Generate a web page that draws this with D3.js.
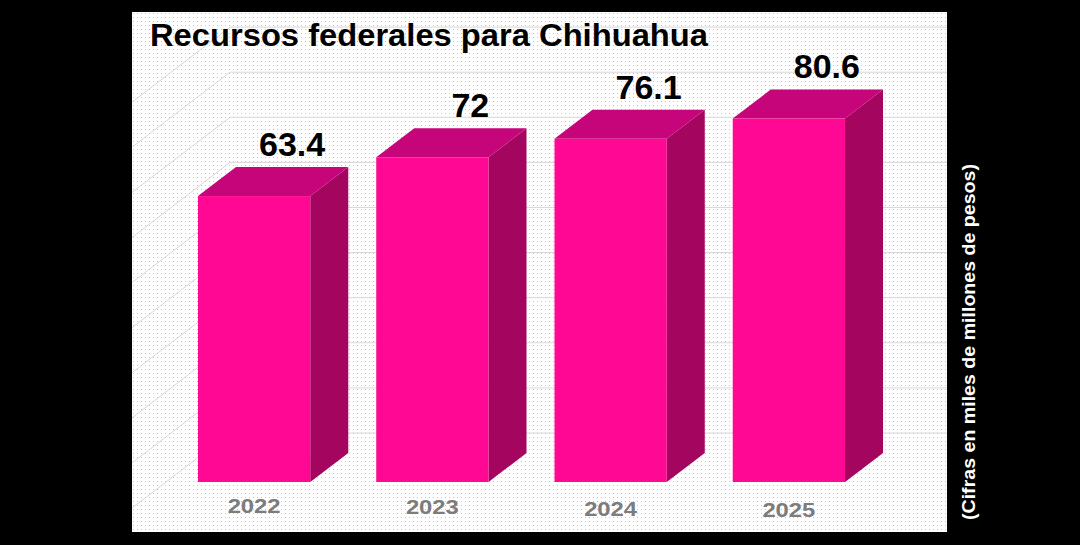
<!DOCTYPE html>
<html>
<head>
<meta charset="utf-8">
<script src="https://cdn.jsdelivr.net/npm/d3@7"></script>
<style>
  body { margin: 0; background: #000; }
  text { font-family: "Liberation Sans", Arial, sans-serif; font-weight: bold; }
</style>
</head>
<body>
<div id="chart"></div>
<script>
const years = ["2022", "2023", "2024", "2025"];
const values = [63.4, 72, 76.1, 80.6];
const gridTicks = [0, 10, 20, 30, 40, 50, 60, 70, 80, 90];
const title = "Recursos federales para Chihuahua";
const unitNote = "(Cifras en miles de millones de pesos)";

const width = 1080, height = 545;
const panel = ({left: 132, top: 12, right: 947, bottom: 532});
const depth = ({dx: 38, dy: -29});   // bar depth
const wall = ({dx: 64, dy: -49});    // back wall offset

const x = d3.scaleBand()
    .domain(years)
    .range([165, 878])
    .paddingInner(0.37)
    .paddingOuter(0.185);

const y = d3.scaleLinear()
    .domain([0, 90])
    .range([482, 482 - 4.51 * 90]);

const svg = d3.select("#chart").append("svg")
    .attr("width", width).attr("height", height);

// dotted background
const pat = svg.append("defs").append("pattern")
    .attr("id", "dots").attr("patternUnits", "userSpaceOnUse")
    .attr("width", 4).attr("height", 4);
pat.append("rect").attr("width", 4).attr("height", 4).attr("fill", "#fff");
pat.append("rect").attr("x", 1).attr("y", 1).attr("width", 1).attr("height", 1).attr("fill", "#d6bccb");

svg.append("rect")
    .attr("x", panel.left).attr("y", panel.top)
    .attr("width", panel.right - panel.left).attr("height", panel.bottom - panel.top)
    .attr("fill", "url(#dots)");

// back wall + side wall grid
const wallLeft = 166 + wall.dx;
const slope = -wall.dy / wall.dx;
let grid = svg.append("g").attr("stroke", "#dcd6d9").attr("stroke-width", 1).attr("fill", "none");
grid.selectAll("line.h")
  .data(gridTicks)
  .enter().append("line")
    .attr("class", "h")
    .attr("x1", wallLeft).attr("x2", panel.right)
    .attr("y1", d => y(d) + wall.dy).attr("y2", d => y(d) + wall.dy);
grid.selectAll("line.s")
  .data(gridTicks)
  .enter().append("line")
    .attr("class", "s")
    .attr("x1", wallLeft).attr("x2", panel.left)
    .attr("y1", d => y(d) + wall.dy)
    .attr("y2", d => y(d) + wall.dy + (wallLeft - panel.left) * slope);

// 3d bars
const bw = x.bandwidth();
let bars = svg.append("g").selectAll("g")
  .data(years.map((yr, i) => ({year: yr, value: values[i]})))
  .enter().append("g");

bars.append("path")   // side
    .attr("fill", "#a3055f")
    .attr("d", d => {
      let x1 = x(d.year) + bw, yt = y(d.value), yb = y(0);
      return `M${x1},${yt}L${x1 + depth.dx},${yt + depth.dy}L${x1 + depth.dx},${yb + depth.dy}L${x1},${yb}Z`;
    });
bars.append("path")   // top
    .attr("fill", "#c6057a")
    .attr("d", d => {
      let x0 = x(d.year), yt = y(d.value);
      return `M${x0},${yt}L${x0 + depth.dx},${yt + depth.dy}L${x0 + bw + depth.dx},${yt + depth.dy}L${x0 + bw},${yt}Z`;
    });
bars.append("rect")   // front
    .attr("fill", "#ff0893")
    .attr("x", d => x(d.year)).attr("y", d => y(d.value))
    .attr("width", bw).attr("height", d => y(0) - y(d.value));

// value labels
bars.append("text")
    .attr("text-anchor", "middle")
    .attr("x", d => x(d.year) + bw / 2 + depth.dx)
    .attr("y", d => y(d.value) + depth.dy - 11)
    .attr("font-size", 34)
    .attr("fill", "#000")
    .text(d => d.value);

// year labels
bars.append("text")
    .attr("text-anchor", "middle")
    .attr("x", d => x(d.year) + bw / 2)
    .attr("y", (d, i) => 513 + i * 1.4)
    .attr("font-size", 21)
    .attr("textLength", 53).attr("lengthAdjust", "spacingAndGlyphs")
    .attr("fill", "#7c7c7c")
    .text(d => d.year);

// title
svg.append("text")
    .attr("x", 150).attr("y", 46)
    .attr("font-size", 31)
    .attr("textLength", 558).attr("lengthAdjust", "spacingAndGlyphs")
    .attr("fill", "#000")
    .text(title);

// unit note on the right
svg.append("text")
    .attr("text-anchor", "middle")
    .attr("transform", "translate(975,342) rotate(-90)")
    .attr("font-size", 19)
    .attr("textLength", 356).attr("lengthAdjust", "spacingAndGlyphs")
    .attr("fill", "#fff")
    .text(unitNote);
</script>
</body>
</html>
